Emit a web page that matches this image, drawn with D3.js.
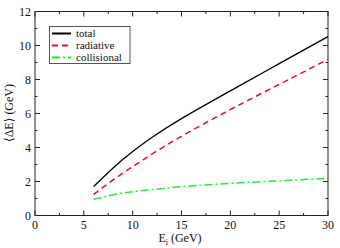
<!DOCTYPE html>
<html><head><meta charset="utf-8">
<script src="https://cdn.jsdelivr.net/npm/d3@7"></script>
<style>body{margin:0;background:#fff}svg{display:block}svg text{font-family:"Liberation Serif","Times New Roman","DejaVu Serif",serif;fill:#111}</style>
</head><body><svg id="c" width="340" height="248"></svg>
<script>
const energies = [6, 8, 10, 12, 15, 20, 25, 30];
const total = [1.70, 2.80, 3.76, 4.60, 5.70, 7.33, 8.93, 10.52];
const radiative = [1.24, 2.09, 2.87, 3.62, 4.66, 6.23, 7.71, 9.19];
const collisional = [0.95, 1.22, 1.40, 1.52, 1.69, 1.89, 2.04, 2.19];
const xTicks = [0, 5, 10, 15, 20, 25, 30];
const yTicks = [0, 2, 4, 6, 8, 10, 12];
const seriesNames = ["total", "radiative", "collisional"];

const svg = d3.select("#c");
const m = {l: 35, r: 328, t: 11.5, b: 215.5};
const x = d3.scaleLinear().domain([0, 30]).range([m.l, m.r]);
const y = d3.scaleLinear().domain([0, 12]).range([m.b, m.t]);

const styles = [
  {color: "#000000", dash: null, w: 1.3},
  {color: "#e0102a", dash: "6,4", w: 1.5},
  {color: "#22ee33", dash: "8,3,2,3", w: 1.5}
];
const data = [total, radiative, collisional];

svg.append("rect").attr("x", m.l).attr("y", m.t).attr("width", m.r - m.l).attr("height", m.b - m.t)
  .attr("fill", "none").attr("stroke", "#222").attr("stroke-width", 1);

const xMinor = d3.range(0, 30.01, 2.5);
const yMinor = d3.range(0, 12.01, 1);
const g = svg.append("g").attr("stroke", "#222").attr("stroke-width", 1);
xMinor.forEach(v => {
  const L = v % 5 === 0 ? 5 : 2.5;
  g.append("line").attr("x1", x(v)).attr("x2", x(v)).attr("y1", m.b).attr("y2", m.b - L);
  g.append("line").attr("x1", x(v)).attr("x2", x(v)).attr("y1", m.t).attr("y2", m.t + L);
});
yMinor.forEach(v => {
  const L = v % 2 === 0 ? 5 : 2.5;
  g.append("line").attr("y1", y(v)).attr("y2", y(v)).attr("x1", m.l).attr("x2", m.l + L);
  g.append("line").attr("y1", y(v)).attr("y2", y(v)).attr("x1", m.r).attr("x2", m.r - L);
});

svg.append("g").selectAll("text").data(xTicks).join("text")
  .attr("x", d => x(d)).attr("y", 229).attr("text-anchor", "middle")
  .attr("font-size", 12).text(d => d);
svg.append("g").selectAll("text").data(yTicks).join("text")
  .attr("x", 31).attr("y", d => y(d) + 4).attr("text-anchor", "end")
  .attr("font-size", 12).text(d => d);

const xt = svg.append("text").attr("x", 180).attr("y", 242).attr("text-anchor", "middle").attr("font-size", 12);
xt.append("tspan").text("E");
xt.append("tspan").attr("font-size", 8).attr("dy", 3).text("i");
xt.append("tspan").attr("dy", -3).text(" (GeV)");
svg.append("text").attr("transform", "translate(13,113) rotate(-90)").attr("text-anchor", "middle")
  .attr("font-size", 12).text("\u27E8\u0394E\u27E9 (GeV)");

const line = d3.line().x((d, i) => x(energies[i])).y(d => y(d)).curve(d3.curveNatural);
data.forEach((s, k) => {
  svg.append("path").datum(s).attr("d", line).attr("fill", "none")
    .attr("stroke", styles[k].color).attr("stroke-width", styles[k].w)
    .attr("stroke-dasharray", styles[k].dash);
});

const lg = svg.append("g");
lg.append("rect").attr("x", 49.5).attr("y", 26.5).attr("width", 80.5).attr("height", 37)
  .attr("fill", "#fff").attr("stroke", "#555").attr("stroke-width", 1);
seriesNames.forEach((n, k) => {
  const yy = 33.5 + k * 12;
  lg.append("line").attr("x1", 52).attr("x2", 71).attr("y1", yy).attr("y2", yy)
    .attr("stroke", styles[k].color).attr("stroke-width", k === 0 ? 2 : 1.8)
    .attr("stroke-dasharray", styles[k].dash);
  lg.append("text").attr("x", 76).attr("y", yy + 3.5).attr("font-size", 11).text(n);
});
</script></body></html>
